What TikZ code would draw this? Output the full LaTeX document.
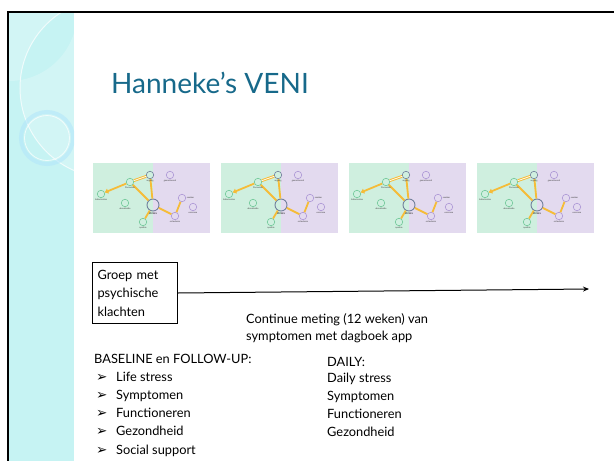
\documentclass[tikz,border=0pt]{standalone}
\usepackage{fontspec}
\setmainfont{Lato}
\newfontfamily\symfont{DejaVu Sans}
\usetikzlibrary{positioning, arrows.meta}
\tikzset{>=stealth}

\definecolor{slideteal}{HTML}{17698A}
\definecolor{stripcyan}{HTML}{C6F3F3}
\definecolor{netgreen}{HTML}{CFEFDF}
\definecolor{netpurple}{HTML}{E3DAEF}
\definecolor{ringgreen}{HTML}{72C99A}
\definecolor{ringpurple}{HTML}{AE98D6}
\definecolor{ringgrey}{HTML}{72809C}
\definecolor{edgeyellow}{HTML}{F5BC38}

\tikzset{
  gnode/.style={circle, draw=ringgreen, line width=0.6pt, minimum size=7.5pt, inner sep=0pt},
  pnode/.style={gnode, draw=ringpurple},
  knode/.style={gnode, draw=ringgrey},
  tinylbl/.style={font=\fontsize{2.2}{2.5}\selectfont, inner sep=0.3pt, text=black!75},
  netedge/.style={edgeyellow, line width=1.8pt},
  bodytext/.style={anchor=base west, inner sep=0pt, font=\fontsize{12.8}{15}\selectfont},
  bullet/.style={anchor=base west, inner sep=0pt, font=\symfont\fontsize{13.5}{14}\selectfont}
}

\begin{document}
\begin{tikzpicture}[x=1pt, y=-1pt]
    \useasboundingbox (0,0) rectangle (614,461);
    % left strip
    \fill[stripcyan] (9,13) rectangle (74,461);
    \begin{scope}
      \clip (9,13) rectangle (74,461);
      \fill[white, opacity=0.22, even odd rule] (9,13) circle (68) (110,88) circle (90);
      \draw[white, line width=1pt, opacity=0.7] (110,88) circle (90);
      \draw[cyan!30, line width=4pt, opacity=0.6] (47,138) circle (26);
      \draw[white, line width=0.8pt, opacity=0.7] (47,138) circle (22.5);
    \end{scope}
    \draw[line width=2.5pt] (8,461) -- (8,12) -- (614,12);

    \node[anchor=base west, inner sep=0pt, text=slideteal,
          font=\fontsize{28}{34}\selectfont] (title) at (111,93) {Hanneke’s VENI};

    % network thumbnails
    \foreach \i/\x in {1/93, 2/221, 3/349, 4/477} {
      \begin{scope}[shift={(\x,163)}]
        \fill[netgreen] (0,0) rectangle (60,70);
        \fill[netpurple] (60,0) rectangle (117,70);
        \node[gnode] (hal\i) at (8,31) {};
        \node[gnode] (par\i) at (37,19) {};
        \node[knode] (ang\i) at (57,12) {};
        \node[pnode] (gem\i) at (77,12) {};
        \node[knode, minimum size=12pt, line width=0.9pt] (str\i) at (60,42) {};
        \node[gnode] (dan\i) at (32,40) {};
        \node[gnode] (apa\i) at (50,59) {};
        \node[pnode] (som\i) at (89,35) {};
        \node[pnode] (een\i) at (100,44) {};
        \node[pnode] (anh\i) at (82,53) {};
        \draw[netedge, -{Triangle[width=5pt, length=3.5pt]}] (par\i) -- (hal\i);
        \draw[edgeyellow, line width=1pt, double=white, double distance=0.7pt] (par\i) -- (ang\i);
        \draw[netedge] (par\i) -- (str\i);
        \draw[netedge] (ang\i) -- (str\i);
        \draw[netedge] (str\i) -- (apa\i);
        \draw[netedge] (str\i) -- (anh\i);
        \draw[netedge] (anh\i) -- (som\i);
        \node[tinylbl, below=0.4pt of hal\i] {hallucinaties};
        \node[tinylbl, below=0.4pt of par\i] {Paranoïde};
        \node[tinylbl, below=0.4pt of ang\i] {angstig};
        \node[tinylbl, below=0.4pt of gem\i] {gemotiveerd};
        \node[tinylbl, below=0.2pt of str\i, font=\fontsize{3}{3.5}\selectfont\bfseries] {stress};
        \node[tinylbl, below=0.4pt of dan\i] {derealisatie};
        \node[tinylbl, below=0.4pt of apa\i] {apathie};
        \node[tinylbl, right=0.3pt of som\i] {somber};
        \node[tinylbl, below=0.4pt of een\i] {eenzaam};
        \node[tinylbl, below=0.4pt of anh\i] {anhedonie};
      \end{scope}
    }

    % group and timeline
    \node[draw, line width=1pt, anchor=north west, minimum width=85, minimum height=61,
          text width=75pt, inner xsep=5pt, align=left,
          font=\fontsize{12.8}{18.5}\selectfont] (groep) at (92,262)
          {Groep met\\psychische\\klachten};
    \coordinate (tijdeind) at (589,289);
    \draw[-{Stealth[length=6pt, width=5pt]}, line width=1pt] (groep.east) -- (tijdeind);
    \node[bodytext] (meting1) at (246,323) {Continue meting (12 weken) van};
    \node[bodytext] (meting2) at (246,340) {symptomen met dagboek app};

    % measures
    \node[bodytext] (baseline) at (94,363) {BASELINE en FOLLOW-UP:};
    \foreach \t [count=\k] in {Life stress, Symptomen, Functioneren, Gezondheid, Social support} {
      \node[bullet] (pijl\k) at (96,363+18.2*\k) {➢};
      \node[bodytext] (base\k) at (116,363+18.2*\k) {\t};
    }
    \node[bodytext] (daily) at (327,366) {DAILY:};
    \foreach \t [count=\k] in {Daily stress, Symptomen, Functioneren, Gezondheid} {
      \node[bodytext] (dag\k) at (327,364+18.2*\k) {\t};
    }
\end{tikzpicture}
\end{document}
